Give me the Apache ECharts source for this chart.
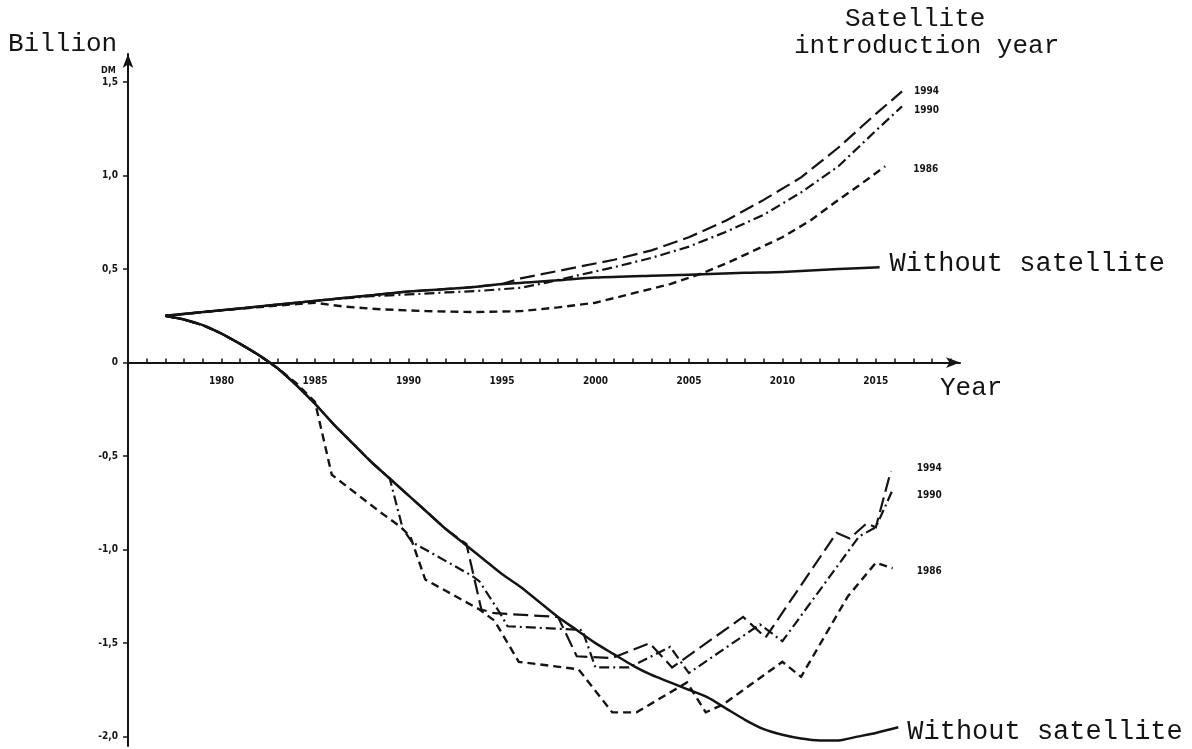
<!DOCTYPE html>
<html>
<head>
<meta charset="utf-8">
<title>Satellite introduction year</title>
<script src="https://cdn.jsdelivr.net/npm/echarts@6/dist/echarts.min.js"></script>
<style>
  html, body { margin: 0; padding: 0; background: #fff; }
  #chart { width: 1192px; height: 749px; }
</style>
</head>
<body>
<div id="chart"></div>
<script>
// Tick positions on the two axes
const yearTicks = [1980, 1985, 1990, 1995, 2000, 2005, 2010, 2015];
const valueTicks = [-2, -1.5, -1, -0.5, 0, 0.5, 1, 1.5];

// Upper curves: annual result, billion DM
const upperWithout = [[1977,0.25],[1980,0.28],[1983,0.31],[1985,0.33],[1988,0.36],[1990,0.38],[1993,0.40],[1995,0.42],[1998,0.44],[2000,0.455],[2003,0.465],[2005,0.47],[2008,0.48],[2010,0.485],[2013,0.50],[2015.2,0.51]];
const upper1986 = [[1977,0.25],[1980,0.28],[1983,0.305],[1985,0.32],[1986.5,0.30],[1988.5,0.285],[1991,0.275],[1993.5,0.27],[1996,0.275],[1998,0.295],[2000,0.32],[2002,0.37],[2004,0.42],[2005.5,0.47],[2007,0.53],[2008.5,0.60],[2010,0.67],[2011.5,0.76],[2013,0.87],[2014,0.94],[2015.5,1.05]];
const upper1990 = [[1977,0.25],[1980,0.28],[1983,0.31],[1985,0.33],[1988,0.355],[1990,0.365],[1992,0.375],[1994,0.385],[1996,0.40],[1997.5,0.43],[1999,0.465],[2001,0.51],[2003,0.56],[2005,0.62],[2007,0.70],[2009,0.79],[2011,0.91],[2013,1.05],[2015,1.24],[2016.4,1.37]];
const upper1994 = [[1977,0.25],[1980,0.28],[1983,0.31],[1985,0.33],[1988,0.36],[1990,0.38],[1993,0.40],[1995,0.42],[1996,0.45],[1997,0.47],[1999,0.51],[2001,0.55],[2003,0.60],[2005,0.67],[2007,0.76],[2009,0.87],[2011,0.99],[2013,1.15],[2015,1.33],[2016.4,1.45]];

// Lower curves: cumulative result, billion DM
const lowerWithout = [[1977,0.25],[1978,0.23],[1979,0.20],[1980,0.155],[1981,0.10],[1982,0.04],[1983,-0.03],[1984,-0.12],[1985,-0.22],[1986,-0.33],[1987,-0.43],[1988,-0.53],[1989,-0.62],[1990,-0.71],[1991,-0.80],[1992,-0.89],[1993,-0.97],[1994,-1.05],[1995,-1.13],[1996,-1.20],[1997,-1.28],[1998,-1.36],[1999,-1.43],[2000,-1.50],[2001,-1.56],[2002,-1.62],[2003,-1.67],[2004,-1.71],[2005,-1.75],[2006,-1.79],[2007,-1.85],[2008,-1.91],[2009,-1.96],[2010,-1.99],[2011,-2.01],[2012,-2.02],[2013,-2.02],[2014,-2.00],[2015,-1.98],[2016.2,-1.95]];
const lower1986 = [[1977,0.25],[1978,0.23],[1979,0.20],[1980,0.155],[1981,0.10],[1982,0.04],[1983,-0.03],[1984,-0.11],[1985,-0.21],[1985.9,-0.60],[1987.2,-0.70],[1988.5,-0.80],[1989.6,-0.88],[1990.1,-0.93],[1990.9,-1.16],[1993.8,-1.32],[1994.6,-1.38],[1995.9,-1.60],[1999.1,-1.64],[2000.9,-1.87],[2002.2,-1.87],[2004.9,-1.71],[2005.9,-1.87],[2006.8,-1.83],[2010.0,-1.60],[2011.0,-1.68],[2013.5,-1.25],[2015.0,-1.07],[2015.9,-1.10]];
const lower1990 = [[1977,0.25],[1978,0.23],[1979,0.20],[1980,0.155],[1981,0.10],[1982,0.04],[1983,-0.03],[1984,-0.12],[1985,-0.22],[1986,-0.33],[1987,-0.43],[1988,-0.53],[1989,-0.62],[1989.7,-0.89],[1990.2,-0.96],[1993.4,-1.14],[1993.8,-1.17],[1994.9,-1.34],[1995.3,-1.41],[1999.3,-1.43],[2000,-1.63],[2001.8,-1.63],[2004,-1.52],[2005,-1.66],[2008.8,-1.40],[2010,-1.49],[2014.1,-0.93],[2015,-0.88],[2015.9,-0.68]];
const lower1994 = [[1977,0.25],[1978,0.23],[1979,0.20],[1980,0.155],[1981,0.10],[1982,0.04],[1983,-0.03],[1984,-0.12],[1985,-0.22],[1986,-0.33],[1987,-0.43],[1988,-0.53],[1989,-0.62],[1990,-0.71],[1991,-0.80],[1992,-0.89],[1993.1,-0.97],[1993.9,-1.32],[1994.6,-1.34],[1998,-1.36],[1999,-1.57],[2000.9,-1.58],[2002.9,-1.50],[2004.1,-1.63],[2007.9,-1.36],[2009.1,-1.47],[2012.9,-0.91],[2013.6,-0.94],[2014.5,-0.86],[2015,-0.88],[2015.8,-0.58]];

const INK = '#141414';
const MONO = '"Liberation Mono", "Courier New", monospace';
const SMALL = '"DejaVu Sans Condensed", "Liberation Sans Narrow", sans-serif';

const Y_MIN = -2.05, Y_MAX = 1.65;
const GRID = { left: 128, top: 54, width: 832, height: 692 };
// the year axis sits on the zero line
const zeroOffset = -GRID.height * (0 - Y_MIN) / (Y_MAX - Y_MIN);

const dashStyles = {
  without: { type: 'solid', width: 2.5 },
  y1986: { type: [8, 5], width: 2.4 },
  y1990: { type: [10, 4, 2, 4], width: 2.2 },
  y1994: { type: [15, 6], width: 2.2 }
};

function endText(text, offset, big) {
  return {
    show: true,
    formatter: text,
    color: INK,
    fontFamily: big ? MONO : SMALL,
    fontSize: big ? 27 : 10,
    fontWeight: big ? 'normal' : 'bold',
    distance: big ? 10 : 12,
    offset: offset
  };
}

function line(name, data, style, label, z) {
  return {
    name: name,
    type: 'line',
    data: data,
    symbol: 'none',
    smooth: name.indexOf('without') === 0 ? 0.25 : false,
    lineStyle: Object.assign({ color: INK, cap: 'butt', join: 'miter' }, style),
    endLabel: label,
    z: z,
    silent: true,
    animation: false
  };
}

function fmtValue(v) {
  if (Math.abs(v) < 1e-9) return '0';
  return v.toFixed(1).replace('.', ',');
}

const yearMinor = [];
for (let y = 1976; y <= 2019; y++) yearMinor.push(y);

const chart = echarts.init(document.getElementById('chart'), null, { renderer: 'canvas' });
chart.setOption({
  backgroundColor: '#ffffff',
  animation: false,
  grid: Object.assign({ containLabel: false, outerBoundsMode: 'none' }, GRID),
  xAxis: {
    type: 'value',
    min: 1975,
    max: 2019.5,
    position: 'bottom',
    offset: zeroOffset,
    axisLine: {
      show: true,
      onZero: false,
      symbol: ['none', 'arrow'],
      symbolSize: [8, 14],
      lineStyle: { color: INK, width: 2 }
    },
    axisTick: { show: true, customValues: yearMinor, length: 4, inside: true, lineStyle: { color: INK, width: 1.5 } },
    axisLabel: {
      customValues: yearTicks,
      color: INK,
      fontFamily: SMALL,
      fontSize: 10,
      fontWeight: 'bold',
      margin: 14,
      formatter: v => String(v)
    },
    splitLine: { show: false }
  },
  yAxis: {
    type: 'value',
    min: Y_MIN,
    max: Y_MAX,
    axisLine: {
      show: true,
      symbol: ['none', 'arrow'],
      symbolSize: [8, 14],
      lineStyle: { color: INK, width: 2 }
    },
    axisTick: { show: true, customValues: valueTicks, length: 5, inside: false, lineStyle: { color: INK, width: 1.5 } },
    axisLabel: {
      customValues: valueTicks,
      color: INK,
      fontFamily: SMALL,
      fontSize: 10,
      fontWeight: 'bold',
      margin: 10,
      formatter: fmtValue
    },
    splitLine: { show: false }
  },
  series: [
    line('1986 upper', upper1986, dashStyles.y1986, endText('1986', [16, 3], false), 2),
    line('1990 upper', upper1990, dashStyles.y1990, endText('1990', [0, 4], false), 2),
    line('1994 upper', upper1994, dashStyles.y1994, endText('1994', [0, 0], false), 2),
    line('1986 lower', lower1986, dashStyles.y1986, endText('1986', [12, 3], false), 2),
    line('1990 lower', lower1990, dashStyles.y1990, endText('1990', [12, 6], false), 2),
    line('1994 lower', lower1994, dashStyles.y1994, endText('1994', [14, -3], false), 2),
    line('without upper', upperWithout, dashStyles.without, endText('Without satellite', [0, -3], true), 3),
    line('without lower', lowerWithout, dashStyles.without, endText('Without satellite', [-1, 5], true), 3)
  ],
  graphic: [
    { type: 'text', left: 8, top: 31, style: { text: 'Billion', font: '26px ' + MONO, fill: INK } },
    { type: 'text', left: 101, top: 66, style: { text: 'DM', font: 'bold 9px ' + SMALL, fill: INK } },
    { type: 'text', left: 845, top: 6, style: { text: 'Satellite', font: '26px ' + MONO, fill: INK } },
    { type: 'text', left: 794, top: 33, style: { text: 'introduction year', font: '26px ' + MONO, fill: INK } },
    { type: 'text', left: 940, top: 375, style: { text: 'Year', font: '26px ' + MONO, fill: INK } }
  ]
});
</script>
</body>
</html>
